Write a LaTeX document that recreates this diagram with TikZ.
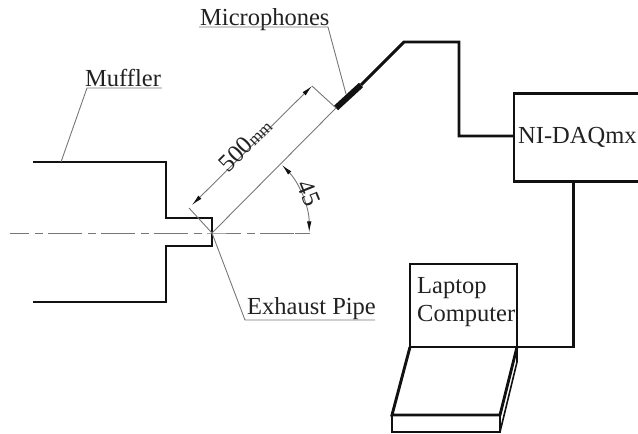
\documentclass[tikz,border=0pt]{standalone}
\usepackage{fontspec}
\setmainfont{Liberation Serif}
\usetikzlibrary{arrows.meta, positioning}
\definecolor{outline}{HTML}{111111}
\definecolor{thinline}{HTML}{777777}
\definecolor{labeltext}{HTML}{222222}
\tikzset{
  wall/.style={draw=outline, line width=2.9pt, line join=miter},
  boxed/.style={draw=outline, line width=2.9pt, outer sep=0pt},
  leader/.style={draw=thinline, line width=0.9pt},
  dim/.style={leader, {Latex[length=11pt,width=4.5pt,color=outline]}-{Latex[length=11pt,width=4.5pt,color=outline]}},
  axis/.style={leader, dash pattern=on 34pt off 6pt on 8pt off 5pt, dash phase=15pt},
  lbl/.style={font=\fontsize{24.5}{28}\selectfont, text=labeltext, inner sep=0pt, anchor=base west},
  dimlbl/.style={font=\fontsize{25}{27}\selectfont, text=labeltext, inner sep=0pt}
}

\begin{document}
\begin{tikzpicture}[x=1pt, y=-1pt]
  \useasboundingbox (0,0) rectangle (638,434);

  % ---- Muffler and exhaust pipe -------------------------------------------
  \coordinate (pipe) at (212,233);
  \coordinate (mufflertop) at (61,162);
  \draw[wall] (33,162) -- (166,162) -- (166,218) -- (212,218) -- (212,246)
    -- (166,246) -- (166,302) -- (33,302);
  \draw[axis] (10,233) -- (pipe) -- (295,233);

  % ---- Microphone boom and cable ------------------------------------------
  \coordinate (micstart) at (336,108);
  \coordinate (micend) at (361,85);
  \coordinate (boom) at (404,42);
  \coordinate (cablein) at (459,136);
  \node[boxed, minimum width=128pt, minimum height=88pt] (daq) at (578,137.5) {};
  \node[lbl] (daqlabel) at (518,143) {NI-DAQmx};
  \draw[outline, line width=6pt] (micstart) -- (micend);
  \draw[wall] (micend) -- (boom) -- (459,42) -- (cablein) -- (cablein -| daq.west);

  % ---- Laptop -------------------------------------------------------------
  \node[boxed, minimum width=107pt, minimum height=83pt] (screen) at (463.5,305.5) {};
  \node[lbl, align=left] (laptop) at (417,321) {Laptop\\Computer};
  \coordinate (elbow) at (573.5,347);
  \draw[wall] (screen.south east) -- (elbow) -- (elbow |- daq.south);
  \draw[wall] (screen.south west) -- (392,415) -- (500,415) -- (screen.south east);
  \draw[wall] (392,415) -- (392,432) -- (500,432) -- (500,415);
  \draw[draw=outline, line width=1.6pt] (500,432) -- (517,362) -- (screen.south east);

  % ---- 500mm dimension ----------------------------------------------------
  \coordinate (extA) at (189,208);
  \coordinate (extB) at (312,86);
  \draw[leader] (pipe) -- (extA);
  \draw[leader] (pipe) -- (micstart) -- (extB);
  \draw[dim] (192,205) -- (extB);
  \node[dimlbl, rotate=45] (length) at (245,145) {500{\fontsize{17}{19}\selectfont mm}};

  % ---- 45 degree dimension ------------------------------------------------
  \coordinate (arcend) at (310,233);
  \draw[dim] (282,165) arc[start angle=-44, end angle=0, radius=97];
  \draw[leader] (295,233) -- (arcend);
  \node[dimlbl, rotate=-68] (angle) at (309,193) {45};

  % ---- Leaders with underlined labels -------------------------------------
  \node[lbl] (muffler) at (85,86) {Muffler};
  \draw[leader] (mufflertop) -- (87,88) -- (162,88);
  \node[lbl] (mics) at (200,25) {Microphones};
  \draw[leader] (199,27) -- (328,27) -- (346,94);
  \node[lbl] (exhaust) at (247,314) {Exhaust Pipe};
  \draw[leader] (pipe) -- (245,320) -- (375,320);

\end{tikzpicture}
\end{document}
